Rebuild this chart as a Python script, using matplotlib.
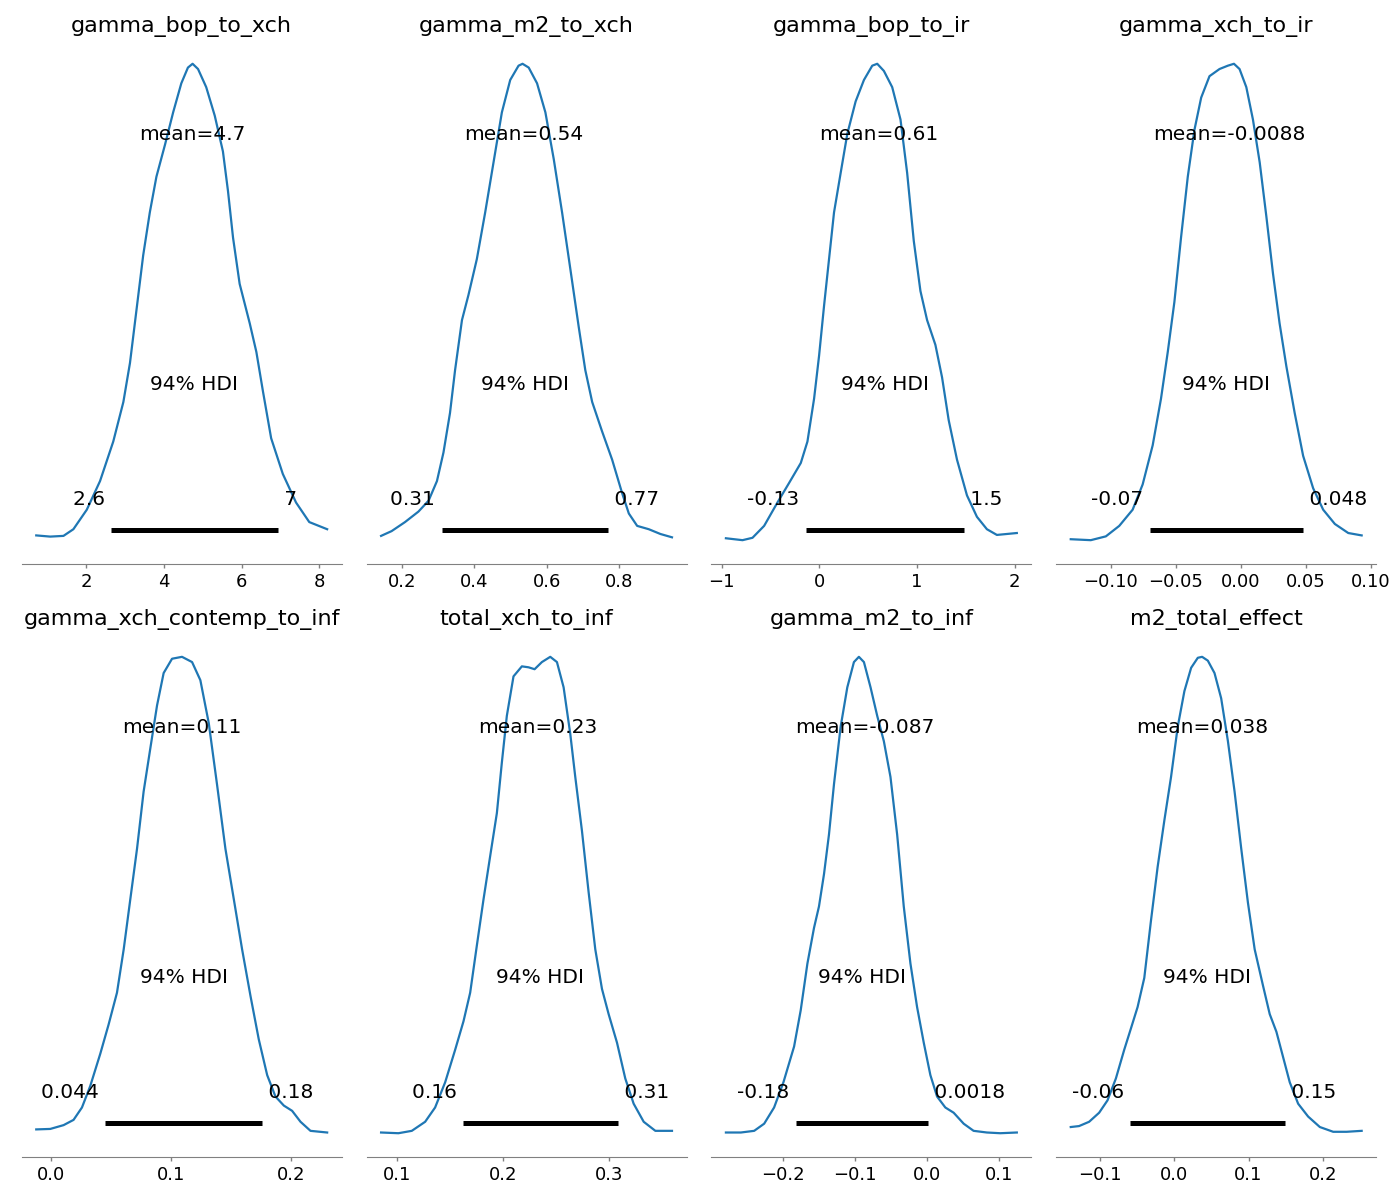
import matplotlib
matplotlib.use("Agg")
import matplotlib.pyplot as plt

# posterior summaries
titles = ["gamma_bop_to_xch", "gamma_m2_to_xch", "gamma_bop_to_ir", "gamma_xch_to_ir",
          "gamma_xch_contemp_to_inf", "total_xch_to_inf", "gamma_m2_to_inf", "m2_total_effect"]
means = [4.74, 0.536, 0.609, -0.0088, 0.109, 0.233, -0.087, 0.038]
mean_labels = ["4.7", "0.54", "0.61", "-0.0088", "0.11", "0.23", "-0.087", "0.038"]
hdi_low = [2.64, 0.310, -0.137, -0.0697, 0.045, 0.1624, -0.1826, -0.0595]
hdi_high = [6.93, 0.769, 1.476, 0.048, 0.1758, 0.3088, 0.0012, 0.1488]
hdi_low_labels = ["2.6", "0.31", "-0.13", "-0.07", "0.044", "0.16", "-0.18", "-0.06"]
hdi_high_labels = ["7", "0.77", "1.5", "0.048", "0.18", "0.31", "0.0018", "0.15"]

# KDE curves (x, relative density)
bop_xch_x = [0.72, 1.08, 1.42, 1.675, 2.02, 2.36, 2.70, 2.96, 3.13, 3.30, 3.47, 3.64, 3.81, 4.03,
             4.24, 4.45, 4.62, 4.74, 4.88, 5.09, 5.31, 5.52, 5.65, 5.78, 5.95, 6.21, 6.38, 6.55,
             6.76, 7.06, 7.40, 7.74, 8.2]
bop_xch_y = [0.010, 0.0075, 0.009, 0.023, 0.064, 0.124, 0.207, 0.29, 0.372, 0.485, 0.598, 0.688,
             0.763, 0.83, 0.898, 0.959, 0.992, 1.0, 0.989, 0.951, 0.891, 0.816, 0.733, 0.635,
             0.538, 0.455, 0.395, 0.312, 0.214, 0.139, 0.079, 0.038, 0.023]

m2_xch_x = [0.143, 0.172, 0.209, 0.246, 0.274, 0.297, 0.315, 0.333, 0.347, 0.366, 0.384, 0.407,
            0.430, 0.453, 0.476, 0.499, 0.522, 0.533, 0.550, 0.573, 0.596, 0.619, 0.642, 0.665,
            0.688, 0.706, 0.725, 0.752, 0.780, 0.807, 0.826, 0.849, 0.881, 0.913, 0.945]
m2_xch_y = [0.009, 0.019, 0.038, 0.06, 0.083, 0.124, 0.184, 0.267, 0.357, 0.462, 0.515, 0.59,
            0.688, 0.793, 0.898, 0.966, 0.996, 1.0, 0.992, 0.959, 0.898, 0.80, 0.688, 0.568,
            0.447, 0.357, 0.29, 0.229, 0.169, 0.10, 0.056, 0.03, 0.023, 0.013, 0.006]

bop_ir_x = [-0.956, -0.786, -0.684, -0.565, -0.429, -0.31, -0.19, -0.122, -0.054, -0.003, 0.048,
            0.099, 0.15, 0.218, 0.286, 0.371, 0.456, 0.541, 0.592, 0.66, 0.745, 0.83, 0.898,
            0.966, 1.034, 1.102, 1.187, 1.255, 1.323, 1.408, 1.51, 1.612, 1.714, 1.816, 1.918,
            2.02]
bop_ir_y = [0.004, 0.0, 0.005, 0.03, 0.079, 0.12, 0.162, 0.207, 0.297, 0.387, 0.492, 0.59, 0.688,
            0.771, 0.853, 0.921, 0.966, 0.996, 1.0, 0.985, 0.951, 0.883, 0.771, 0.628, 0.523,
            0.462, 0.41, 0.342, 0.252, 0.169, 0.094, 0.049, 0.023, 0.011, 0.013, 0.015]

xch_ir_x = [-0.1306, -0.1152, -0.1036, -0.0933, -0.083, -0.0753, -0.0676, -0.0612, -0.056,
            -0.0509, -0.0458, -0.0406, -0.0355, -0.0303, -0.0239, -0.0162, -0.0098, -0.0051,
            -0.0008, 0.0044, 0.0095, 0.0147, 0.0198, 0.0249, 0.03, 0.0352, 0.0416, 0.0481,
            0.0558, 0.0635, 0.0725, 0.0828, 0.0931]
xch_ir_y = [0.002, 0.0, 0.008, 0.03, 0.064, 0.117, 0.199, 0.297, 0.395, 0.5, 0.635, 0.763, 0.861,
            0.929, 0.974, 0.989, 0.996, 1.0, 0.989, 0.951, 0.883, 0.793, 0.68, 0.56, 0.455, 0.365,
            0.267, 0.177, 0.109, 0.064, 0.034, 0.015, 0.01]

contemp_x = [-0.0125, -0.0008, 0.0103, 0.0186, 0.0256, 0.0325, 0.0409, 0.0478, 0.0548, 0.0604,
             0.0659, 0.0715, 0.077, 0.0826, 0.0882, 0.0937, 0.1007, 0.109, 0.1174, 0.1243,
             0.1313, 0.1382, 0.1452, 0.1522, 0.1591, 0.1661, 0.173, 0.18, 0.1869, 0.1939,
             0.2008, 0.2078, 0.2161, 0.23]
contemp_y = [0.008, 0.009, 0.017, 0.028, 0.054, 0.099, 0.167, 0.228, 0.295, 0.386, 0.491, 0.597,
             0.717, 0.808, 0.898, 0.966, 0.996, 1.0, 0.989, 0.951, 0.861, 0.732, 0.597, 0.491,
             0.386, 0.288, 0.197, 0.122, 0.077, 0.058, 0.047, 0.024, 0.005, 0.0015]

total_xch_x = [0.0852, 0.1016, 0.1142, 0.1268, 0.1362, 0.1457, 0.1551, 0.163, 0.1693, 0.1756,
               0.1819, 0.1882, 0.1945, 0.1992, 0.2039, 0.2102, 0.2181, 0.2244, 0.2301, 0.237,
               0.2449, 0.2512, 0.2575, 0.2638, 0.2685, 0.2748, 0.2811, 0.2874, 0.2937, 0.3,
               0.3079, 0.3157, 0.3236, 0.3331, 0.3441, 0.3598]
total_xch_y = [0.0015, 0.0, 0.005, 0.024, 0.054, 0.107, 0.175, 0.235, 0.295, 0.394, 0.491, 0.582,
               0.672, 0.778, 0.876, 0.959, 0.98, 0.978, 0.974, 0.989, 1.0, 0.989, 0.936, 0.838,
               0.748, 0.635, 0.506, 0.386, 0.303, 0.25, 0.19, 0.115, 0.062, 0.024, 0.005, 0.005]

m2_inf_x = [-0.2797, -0.2589, -0.2404, -0.2265, -0.2127, -0.1997, -0.1849, -0.1757, -0.1664,
            -0.1572, -0.1503, -0.1433, -0.1364, -0.1294, -0.1202, -0.1109, -0.1017, -0.0948,
            -0.0878, -0.0786, -0.0693, -0.0601, -0.0509, -0.0416, -0.0324, -0.0231, -0.0139,
            -0.0046, 0.0046, 0.0139, 0.0254, 0.037, 0.0509, 0.0647, 0.0832, 0.1017, 0.1248]
m2_inf_y = [0.0015, 0.0015, 0.005, 0.02, 0.054, 0.107, 0.182, 0.258, 0.356, 0.431, 0.476, 0.544,
            0.627, 0.733, 0.853, 0.936, 0.989, 1.0, 0.989, 0.936, 0.876, 0.823, 0.748, 0.627,
            0.476, 0.356, 0.265, 0.19, 0.122, 0.077, 0.054, 0.043, 0.02, 0.005, 0.0015, 0.0,
            0.0015]

m2_total_x = [-0.1398, -0.1286, -0.115, -0.1015, -0.0902, -0.0789, -0.0677, -0.0586, -0.0496,
              -0.0406, -0.0316, -0.0226, -0.0135, -0.0045, 0.0045, 0.0135, 0.0226, 0.0316,
              0.0374, 0.0451, 0.0541, 0.0631, 0.0722, 0.0812, 0.0902, 0.0992, 0.1083, 0.1195,
              0.1286, 0.1376, 0.1466, 0.1556, 0.1669, 0.1804, 0.1962, 0.2142, 0.2323, 0.2526]
m2_total_y = [0.013, 0.015, 0.024, 0.043, 0.069, 0.115, 0.175, 0.22, 0.265, 0.326, 0.446, 0.559,
              0.657, 0.748, 0.853, 0.928, 0.977, 0.998, 1.0, 0.992, 0.966, 0.913, 0.823, 0.717,
              0.597, 0.484, 0.386, 0.31, 0.25, 0.213, 0.16, 0.107, 0.062, 0.035, 0.013, 0.003,
              0.003, 0.005]

curves = [(bop_xch_x, bop_xch_y), (m2_xch_x, m2_xch_y), (bop_ir_x, bop_ir_y),
          (xch_ir_x, xch_ir_y), (contemp_x, contemp_y), (total_xch_x, total_xch_y),
          (m2_inf_x, m2_inf_y), (m2_total_x, m2_total_y)]

fig, axes = plt.subplots(2, 4, figsize=(14, 12), dpi=100)
fig.subplots_adjust(left=0.0155, right=0.983, bottom=0.0358, top=0.9667,
                    wspace=0.0776, hspace=0.1317)

label_size = 14.5
for i, ax in enumerate(axes.flat):
    xs, ys = curves[i]
    ax.plot(xs, ys, color="C0", lw=1.6, solid_joinstyle="round")
    # invisible fill down to zero so the y autoscale starts from 0 like arviz
    ax.fill_between(xs, 0, ys, alpha=0)
    height = ax.get_ylim()[1]

    # hdi bar and labels, placed like arviz does
    ax.plot([hdi_low[i], hdi_high[i]], [height * 0.02, height * 0.02],
            lw=3.6, color="k", solid_capstyle="butt")
    ax.text(hdi_low[i], height * 0.07, hdi_low_labels[i] + " ", size=label_size,
            horizontalalignment="right")
    ax.text(hdi_high[i], height * 0.07, " " + hdi_high_labels[i], size=label_size,
            horizontalalignment="left")
    ax.text((hdi_low[i] + hdi_high[i]) / 2, height * 0.3, "94% HDI", size=label_size,
            horizontalalignment="center")
    ax.text(means[i], height * 0.8, "mean=" + mean_labels[i], size=label_size,
            horizontalalignment="center")

    ax.set_title(titles[i], fontsize=16)
    ax.set_yticks([])
    for side in ["top", "right", "left"]:
        ax.spines[side].set_visible(False)
    ax.spines["bottom"].set_color("0.5")
    ax.tick_params(axis="x", direction="out", width=1, length=3, color="0.5", labelsize=13)

fig.savefig("out.png", dpi=100)
